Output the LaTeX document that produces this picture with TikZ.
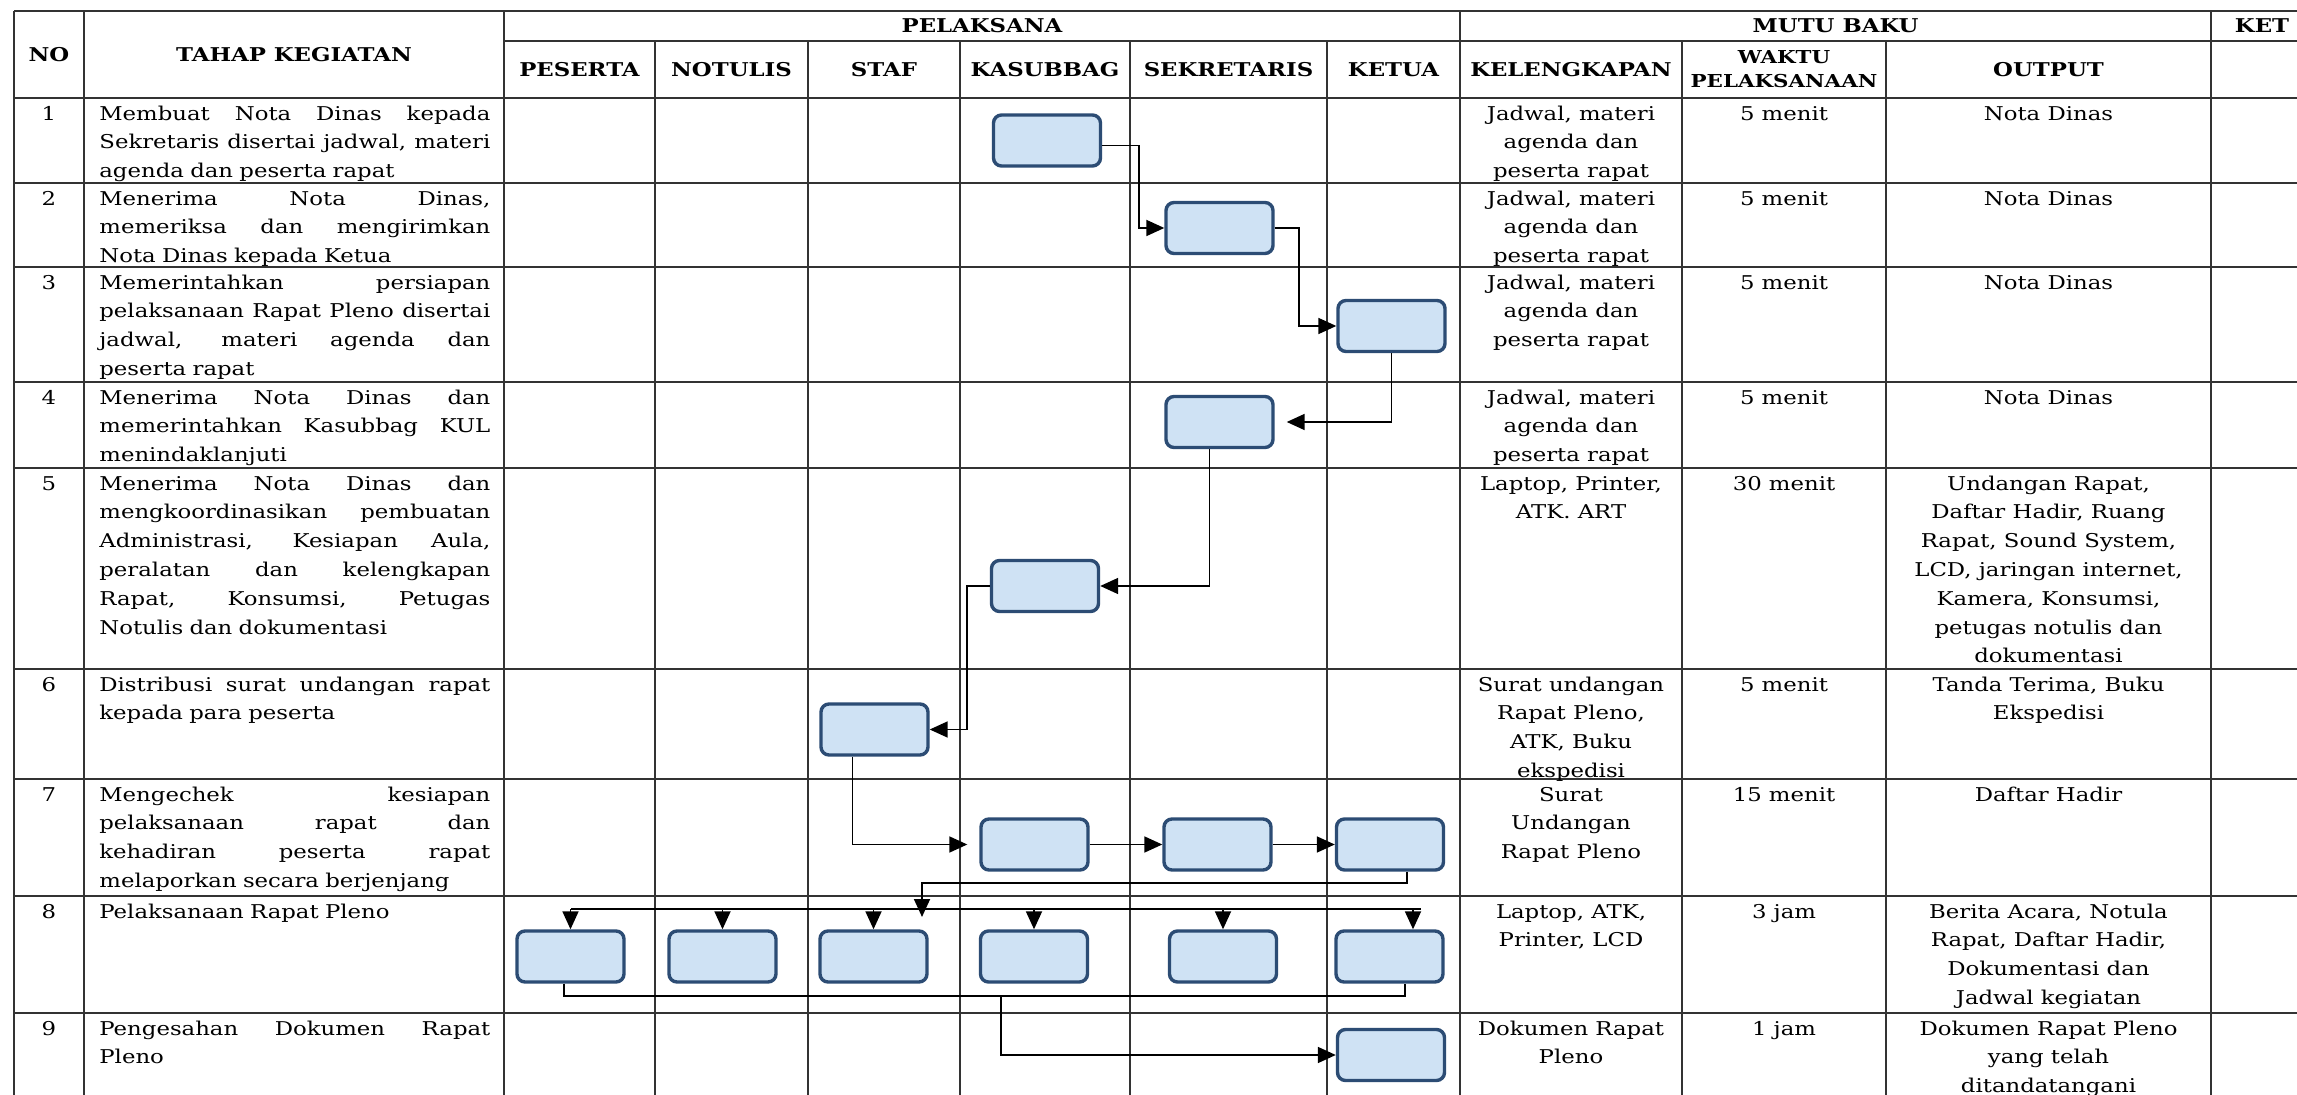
\documentclass[tikz,border=0pt]{standalone}
\usepackage{fontspec}
\setmainfont{DejaVu Serif}[FakeStretch=1.2]
\usetikzlibrary{arrows.meta}
\definecolor{boxfill}{RGB}{207,226,244}
\definecolor{boxline}{RGB}{44,76,116}
\newcommand\bodyf{\fontsize{9.5pt}{14.4pt}\selectfont}
\newcommand\hdrf{\fontsize{9.5pt}{12pt}\selectfont\bfseries}
\newcommand\hdrsmall{\fontsize{8.9pt}{12pt}\selectfont\bfseries}
\newcommand\jl[1]{\makebox[195.5pt][s]{\spaceskip=\fontdimen2\font plus 1fil\relax #1}}
\tikzset{
  gridline/.style={line width=0.9pt, draw=black!80},
  hdr/.style={font=\hdrf, inner sep=0pt, align=center},
  txt/.style={font=\bodyf, inner sep=0pt, anchor=north, align=center},
  tahap/.style={font=\bodyf, inner sep=0pt, anchor=north west, text width=195.5pt, align=left},
  flowbox/.style={rectangle, rounded corners=4pt, minimum width=53.5pt, minimum height=25.5pt, inner sep=0pt, draw=boxline, fill=boxfill, line width=1.7pt},
  conn/.style={line width=0.9pt, draw=black},
  arr/.style={conn, -{Triangle[length=9pt,width=8pt]}},
}
\begin{document}
\begin{tikzpicture}[x=0.5pt,y=-0.5pt]
\clip (0,0) rectangle (2297,1095);
\fill[white] (0,0) rectangle (2297,1095);
% grid
\draw[gridline] (14,11) -- (2310,11);
\draw[gridline] (504,41) -- (2310,41);
\foreach \y in {98,183,267,382,468,669,779,896,1013} \draw[gridline] (14,\y) -- (2310,\y);
\foreach \x in {14,84,504,1460,2211} \draw[gridline] (\x,11) -- (\x,1110);
\foreach \x in {655,808,960,1130,1327,1682,1886} \draw[gridline] (\x,41) -- (\x,1110);
% headers
\node[hdr] (hNO) at (49,54.5) {NO};
\node[hdr] (hTK) at (294,54.5) {TAHAP KEGIATAN};
\node[hdr] (hPL) at (982,26) {PELAKSANA};
\node[hdr] (hMB) at (1835.5,26) {MUTU BAKU};
\node[hdr] (hKET) at (2262,26) {KET};
\node[hdr] (hPES) at (579.5,69.5) {PESERTA};
\node[hdr] (hNOT) at (731.5,69.5) {NOTULIS};
\node[hdr] (hSTF) at (884,69.5) {STAF};
\node[hdr] (hKSB) at (1045,69.5) {KASUBBAG};
\node[hdr] (hSEK) at (1228.5,69.5) {SEKRETARIS};
\node[hdr] (hKET2) at (1393.5,69.5) {KETUA};
\node[hdr] (hKEL) at (1571,69.5) {KELENGKAPAN};
\node[hdr, font=\hdrsmall] (hWKT) at (1784,69.5) {WAKTU\\PELAKSANAAN};
\node[hdr] (hOUT) at (2048.5,69.5) {OUTPUT};
% row 1
\node[txt] (n1) at (49,99.5) {\strut 1};
\node[tahap] (t1) at (99,99.5) {\strut\jl{Membuat Nota Dinas kepada}\\\jl{Sekretaris disertai jadwal, materi}\\agenda dan peserta rapat};
\node[txt] (k1) at (1571,99.5) {\strut Jadwal, materi\\agenda dan\\peserta rapat};
\node[txt] (w1) at (1784,99.5) {\strut 5 menit};
\node[txt] (o1) at (2048.5,99.5) {\strut Nota Dinas};
% row 2
\node[txt] (n2) at (49,184.5) {\strut 2};
\node[tahap] (t2) at (99,184.5) {\strut\jl{Menerima Nota Dinas,}\\\jl{memeriksa dan mengirimkan}\\Nota Dinas kepada Ketua};
\node[txt] (k2) at (1571,184.5) {\strut Jadwal, materi\\agenda dan\\peserta rapat};
\node[txt] (w2) at (1784,184.5) {\strut 5 menit};
\node[txt] (o2) at (2048.5,184.5) {\strut Nota Dinas};
% row 3
\node[txt] (n3) at (49,268.5) {\strut 3};
\node[tahap] (t3) at (99,268.5) {\strut\jl{Memerintahkan persiapan}\\\jl{pelaksanaan Rapat Pleno disertai}\\\jl{jadwal, materi agenda dan}\\peserta rapat};
\node[txt] (k3) at (1571,268.5) {\strut Jadwal, materi\\agenda dan\\peserta rapat};
\node[txt] (w3) at (1784,268.5) {\strut 5 menit};
\node[txt] (o3) at (2048.5,268.5) {\strut Nota Dinas};
% row 4
\node[txt] (n4) at (49,383.5) {\strut 4};
\node[tahap] (t4) at (99,383.5) {\strut\jl{Menerima Nota Dinas dan}\\\jl{memerintahkan Kasubbag KUL}\\menindaklanjuti};
\node[txt] (k4) at (1571,383.5) {\strut Jadwal, materi\\agenda dan\\peserta rapat};
\node[txt] (w4) at (1784,383.5) {\strut 5 menit};
\node[txt] (o4) at (2048.5,383.5) {\strut Nota Dinas};
% row 5
\node[txt] (n5) at (49,469.5) {\strut 5};
\node[tahap] (t5) at (99,469.5) {\strut\jl{Menerima Nota Dinas dan}\\\jl{mengkoordinasikan pembuatan}\\\jl{Administrasi, Kesiapan Aula,}\\\jl{peralatan dan kelengkapan}\\\jl{Rapat, Konsumsi, Petugas}\\Notulis dan dokumentasi};
\node[txt] (k5) at (1571,469.5) {\strut Laptop, Printer,\\ATK. ART};
\node[txt] (w5) at (1784,469.5) {\strut 30 menit};
\node[txt] (o5) at (2048.5,469.5) {\strut Undangan Rapat,\\Daftar Hadir, Ruang\\Rapat, Sound System,\\LCD, jaringan internet,\\Kamera, Konsumsi,\\petugas notulis dan\\dokumentasi};
% row 6
\node[txt] (n6) at (49,670.5) {\strut 6};
\node[tahap] (t6) at (99,670.5) {\strut\jl{Distribusi surat undangan rapat}\\kepada para peserta};
\node[txt] (k6) at (1571,670.5) {\strut Surat undangan\\Rapat Pleno,\\ATK, Buku\\ekspedisi};
\node[txt] (w6) at (1784,670.5) {\strut 5 menit};
\node[txt] (o6) at (2048.5,670.5) {\strut Tanda Terima, Buku\\Ekspedisi};
% row 7
\node[txt] (n7) at (49,780.5) {\strut 7};
\node[tahap] (t7) at (99,780.5) {\strut\jl{Mengechek kesiapan}\\\jl{pelaksanaan rapat dan}\\\jl{kehadiran peserta rapat}\\melaporkan secara berjenjang};
\node[txt] (k7) at (1571,780.5) {\strut Surat\\Undangan\\Rapat Pleno};
\node[txt] (w7) at (1784,780.5) {\strut 15 menit};
\node[txt] (o7) at (2048.5,780.5) {\strut Daftar Hadir};
% row 8
\node[txt] (n8) at (49,897.5) {\strut 8};
\node[tahap] (t8) at (99,897.5) {\strut Pelaksanaan Rapat Pleno};
\node[txt] (k8) at (1571,897.5) {\strut Laptop, ATK,\\Printer, LCD};
\node[txt] (w8) at (1784,897.5) {\strut 3 jam};
\node[txt] (o8) at (2048.5,897.5) {\strut Berita Acara, Notula\\Rapat, Daftar Hadir,\\Dokumentasi dan\\Jadwal kegiatan};
% row 9
\node[txt] (n9) at (49,1014.5) {\strut 9};
\node[tahap] (t9) at (99,1014.5) {\strut\jl{Pengesahan Dokumen Rapat}\\Pleno};
\node[txt] (k9) at (1571,1014.5) {\strut Dokumen Rapat\\Pleno};
\node[txt] (w9) at (1784,1014.5) {\strut 1 jam};
\node[txt] (o9) at (2048.5,1014.5) {\strut Dokumen Rapat Pleno\\yang telah\\ditandatangani};
% boxes
\node[flowbox] (B1) at (1047,140.5) {};
\node[flowbox] (B2) at (1219.5,228) {};
\node[flowbox] (B3) at (1391.5,326) {};
\node[flowbox] (B4) at (1219.5,422) {};
\node[flowbox] (B5) at (1045,586) {};
\node[flowbox] (B6) at (874.5,729.5) {};
\node[flowbox] (B7a) at (1034.5,844.5) {};
\node[flowbox] (B7b) at (1217.5,844.5) {};
\node[flowbox] (B7c) at (1390,844.5) {};
\node[flowbox] (B8a) at (570.5,956.5) {};
\node[flowbox] (B8b) at (722.5,956.5) {};
\node[flowbox] (B8c) at (873.5,956.5) {};
\node[flowbox] (B8d) at (1034,956.5) {};
\node[flowbox] (B8e) at (1223,956.5) {};
\node[flowbox] (B8f) at (1389.5,956.5) {};
\node[flowbox] (B9) at (1391,1055) {};
% connectors
\coordinate (s1) at ([yshift=-2.5pt]B1.east);
\draw[arr] (s1) -- ++(37,0) |- (B2.west);
\draw[arr] (B2.east) -- ++(24,0) |- (B3.west);
\draw[arr, shorten >=6pt] (B3.south) |- (B4.east);
\coordinate (s4) at ([xshift=-5pt]B4.south);
\draw[arr] (s4) |- (B5.east);
\draw[arr] (B5.west) -- ++(-23,0) |- (B6.east);
\coordinate (s6) at ([xshift=-11pt]B6.south);
\draw[arr, shorten >=6pt] (s6) |- (B7a.west);
\draw[arr] (B7a.east) -- (B7b.west);
\draw[arr] (B7b.east) -- (B7c.west);
\coordinate (s7) at ([xshift=8.5pt]B7c.south);
\coordinate (d1) at (922,883);
\coordinate (d2) at (922,917);
\draw[arr] (s7) |- (d1) -- (d2);
\coordinate (dl) at (571,909);
\coordinate (dr) at (1421,909);
\draw[conn] (dl) -- (dr);
\foreach \n in {B8a,B8b,B8c,B8d,B8e} \draw[arr] (\n.north |- dl) -- (\n.north);
\coordinate (f8) at ([xshift=11.75pt]B8f.north);
\draw[arr] (f8 |- dl) -- (f8);
\coordinate (cl) at (1001,996);
\coordinate (a8s) at ([xshift=-3.25pt]B8a.south);
\coordinate (f8s) at ([xshift=7.75pt]B8f.south);
\draw[conn] (a8s) |- (cl) -| (f8s);
\draw[arr] (cl) |- (B9.west);
\end{tikzpicture}
\end{document}
